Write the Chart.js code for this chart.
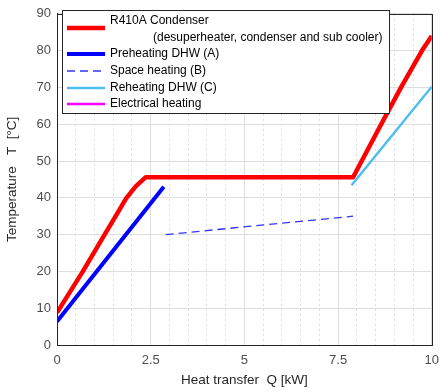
<!DOCTYPE html>
<html>
<head>
<meta charset="utf-8">
<script src="https://cdn.jsdelivr.net/npm/chart.js@4"></script>
<style>
html,body{margin:0;padding:0;background:#fff}
#wrap{width:447px;height:392px;position:relative}
</style>
</head>
<body>
<div id="wrap"><canvas id="c" width="447" height="392"></canvas></div>
<script>
/* data */
let condQ = [0, 0.69, 1.27, 1.57, 1.84, 2.1, 2.37, 7.9, 8.65, 9.18, 9.74, 10]
let condT = [8.8, 20, 30, 35.1, 39.8, 43.1, 45.6, 45.6, 60, 70, 80, 84]

let preQ = [0, 2.85]
let preT = [6.4, 43]

let spaceQ = [2.9, 7.9]
let spaceT = [30, 35]

let reheatQ = [7.86, 10]
let reheatT = [43.4, 70.2]

let elecQ = []
let elecT = []

let xTicks = [0, 2.5, 5, 7.5, 10]
let yTicks = [0, 10, 20, 30, 40, 50, 60, 70, 80, 90]

function pts(q,t){ return q.map((v,i)=>({x:v,y:t[i]})) }

let FONT = "'Liberation Sans', Arial, sans-serif"
let GREY = "#4d4d4d"

/* =========================
   LEGEND + FRAME PLUGIN
========================= */
let legendPlugin = {
id:"matlabLegend",
afterDraw(chart){
let ctx = chart.ctx
let a = chart.chartArea
ctx.save()
// plot frame
ctx.strokeStyle = "#262626"
ctx.lineWidth = 1
ctx.strokeRect(Math.round(a.left)+0.5, Math.round(a.top)+0.5, Math.round(a.right-a.left), Math.round(a.bottom-a.top))

// legend box
let bx = 62.5, by = 10.5, bw = 327, bh = 103
ctx.fillStyle = "#fff"
ctx.fillRect(bx, by, bw, bh)
ctx.strokeStyle = "#262626"
ctx.strokeRect(bx, by, bw, bh)

let rows = [
{ds:0, lineY:28, text:"R410A Condenser", textY:21},
{ds:1, lineY:54, text:"Preheating DHW (A)", textY:54},
{ds:2, lineY:71, text:"Space heating (B)", textY:71},
{ds:3, lineY:88, text:"Reheating DHW (C)", textY:88},
{ds:4, lineY:104, text:"Electrical heating", textY:104}
]
ctx.font = "12px " + FONT
ctx.textBaseline = "middle"
ctx.fillStyle = "#000"
rows.forEach(r=>{
let ds = chart.data.datasets[r.ds]
ctx.beginPath()
ctx.strokeStyle = ds.borderColor
ctx.lineWidth = ds.borderWidth
ctx.setLineDash(ds.borderDash || [])
ctx.moveTo(67, r.lineY)
ctx.lineTo(105, r.lineY)
ctx.stroke()
ctx.setLineDash([])
ctx.fillText(r.text, 110, r.textY)
})
ctx.fillText("(desuperheater, condenser and sub cooler)", 153, 38)
ctx.restore()
}
}

/* =========================
   CHART
========================= */
let ctx = document.getElementById("c").getContext("2d")

new Chart(ctx,{
type:"scatter",
data:{
datasets:[
{
label:"R410A Condenser",
data:pts(condQ,condT),
showLine:true,
borderColor:"#ff0000",
borderWidth:4.5,
borderJoinStyle:"round",
pointRadius:0,
tension:0
},
{
label:"Preheating DHW (A)",
data:pts(preQ,preT),
showLine:true,
borderColor:"#0000ff",
borderWidth:4,
pointRadius:0
},
{
label:"Space heating (B)",
data:pts(spaceQ,spaceT),
showLine:true,
borderColor:"#3333ff",
borderWidth:1.3,
borderDash:[8,5],
pointRadius:0
},
{
label:"Reheating DHW (C)",
data:pts(reheatQ,reheatT),
showLine:true,
borderColor:"#4dbeee",
borderWidth:2.5,
pointRadius:0
},
{
label:"Electrical heating",
data:pts(elecQ,elecT),
showLine:true,
borderColor:"#ff00ff",
borderWidth:2.5,
pointRadius:0
}
]
},
options:{
responsive:false,
animation:false,
layout:{padding:{top:8,right:11,left:0,bottom:0}},
plugins:{
legend:{display:false},
tooltip:{enabled:false}
},
scales:{
xMinor:{
type:"linear",
position:"bottom",
min:0,max:10,
ticks:{display:false,stepSize:0.5},
grid:{color:"#d4d4d4",drawTicks:false,lineWidth:0.8},
border:{display:false,dash:[2,3]},
afterFit(s){ s.height = 0 }
},
x:{
type:"linear",
position:"bottom",
min:0,max:10,
afterBuildTicks(s){ s.ticks = xTicks.map(v=>({value:v})) },
ticks:{color:GREY,font:{family:FONT,size:13},padding:8,maxRotation:0},
grid:{color:"#dedede",drawTicks:false,lineWidth:1},
border:{color:"#262626"},
title:{display:true,text:"Heat transfer  Q [kW]",color:"#262626",font:{family:FONT,size:13.5},padding:{top:7}},
afterFit(s){ s.height = 47 }
},
y:{
type:"linear",
min:0,max:90,
afterBuildTicks(s){ s.ticks = yTicks.map(v=>({value:v})) },
ticks:{color:GREY,font:{family:FONT,size:13},padding:6},
grid:{color:"#dedede",drawTicks:false,lineWidth:1},
border:{color:"#262626"},
title:{display:true,text:"Temperature   T  [°C]",color:"#262626",font:{family:FONT,size:13.5},padding:{bottom:4}},
afterFit(s){ s.width = 57 }
}
}
},
plugins:[legendPlugin]
})
</script>
</body>
</html>
